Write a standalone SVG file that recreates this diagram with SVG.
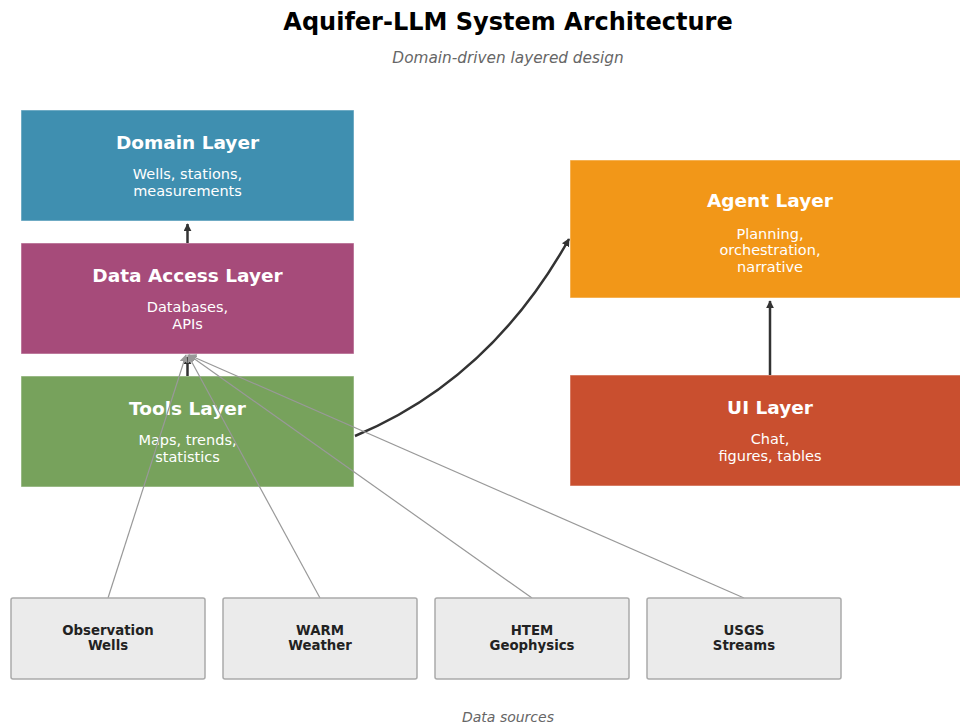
<svg xmlns="http://www.w3.org/2000/svg" width="960" height="726" viewBox="0 0 960 726">
<defs>
<marker id="ahg" viewBox="0 0 10 10" refX="9" refY="5" markerWidth="8" markerHeight="8" orient="auto" markerUnits="userSpaceOnUse"><path d="M0,0 L10,5 L0,10 z" fill="#999"/></marker>
<marker id="ahd" viewBox="0 0 10 10" refX="9" refY="5" markerWidth="8" markerHeight="8" orient="auto" markerUnits="userSpaceOnUse"><path d="M0,0 L10,5 L0,10 z" fill="#333"/></marker>
</defs>
<style>
text{font-family:"DejaVu Sans","Liberation Sans",sans-serif;text-anchor:middle}
.title{font-size:24px;font-weight:bold;fill:#000}
.sub{font-size:15.3px;font-style:italic;fill:#666}
.nt{font-size:18.5px;font-weight:bold;fill:#fff}
.nd{font-size:14.5px;fill:#fff}
.src rect{fill:#ebebeb;stroke:#aaa;stroke-width:1.5}
.st{font-size:13.3px;font-weight:bold;fill:#222}
.lay{stroke:#fff;stroke-width:1;stroke-opacity:0.5}
.dark{stroke:#333;stroke-width:2.5;fill:none}
.gray{stroke:#999;stroke-width:1.2;fill:none}
</style>
<rect width="960" height="726" fill="#fff"/>
<text class="title" x="508" y="30">Aquifer-LLM System Architecture</text>
<text class="sub" x="508" y="63">Domain-driven layered design</text>

<g id="domain">
<rect class="lay" x="21" y="110" width="333" height="111" fill="#3f8fb0"/>
<text class="nt" x="187.5" y="149">Domain Layer</text>
<text class="nd" x="187.5" y="179">Wells, stations,</text>
<text class="nd" x="187.5" y="196">measurements</text>
</g>
<g id="dataaccess">
<rect class="lay" x="21" y="243" width="333" height="111" fill="#a64b7a"/>
<text class="nt" x="187.5" y="282">Data Access Layer</text>
<text class="nd" x="187.5" y="312">Databases,</text>
<text class="nd" x="187.5" y="329">APIs</text>
</g>
<g id="tools">
<rect class="lay" x="21" y="376" width="333" height="111" fill="#77a25c"/>
<text class="nt" x="187.5" y="415">Tools Layer</text>
<text class="nd" x="187.5" y="445">Maps, trends,</text>
<text class="nd" x="187.5" y="462">statistics</text>
</g>
<g id="agent">
<rect class="lay" x="570" y="160" width="400" height="138" fill="#f29718"/>
<text class="nt" x="770" y="207">Agent Layer</text>
<text class="nd" x="770" y="239">Planning,</text>
<text class="nd" x="770" y="255">orchestration,</text>
<text class="nd" x="770" y="272">narrative</text>
</g>
<g id="ui">
<rect class="lay" x="570" y="375" width="400" height="111" fill="#c94f2f"/>
<text class="nt" x="770" y="414">UI Layer</text>
<text class="nd" x="770" y="444">Chat,</text>
<text class="nd" x="770" y="461">figures, tables</text>
</g>

<g id="connectors">
<line class="dark" x1="187.5" y1="243" x2="187.5" y2="224" marker-end="url(#ahd)"/>
<line class="dark" x1="187.5" y1="376" x2="187.5" y2="357" marker-end="url(#ahd)"/>
<line class="dark" x1="770" y1="375" x2="770" y2="301" marker-end="url(#ahd)"/>
<path class="dark" d="M355,436 Q490,380 569,239" marker-end="url(#ahd)"/>
<line class="gray" x1="108" y1="598" x2="186" y2="355" marker-end="url(#ahg)"/>
<line class="gray" x1="320" y1="598" x2="188" y2="355" marker-end="url(#ahg)"/>
<line class="gray" x1="532" y1="598" x2="189" y2="355" marker-end="url(#ahg)"/>
<line class="gray" x1="744" y1="598" x2="189" y2="355" marker-end="url(#ahg)"/>
</g>

<g id="src-wells" class="src"><rect x="11" y="598" width="194" height="81" rx="2"/><text class="st" x="108" y="635">Observation</text><text class="st" x="108" y="650">Wells</text></g>
<g id="src-warm" class="src"><rect x="223" y="598" width="194" height="81" rx="2"/><text class="st" x="320" y="635">WARM</text><text class="st" x="320" y="650">Weather</text></g>
<g id="src-htem" class="src"><rect x="435" y="598" width="194" height="81" rx="2"/><text class="st" x="532" y="635">HTEM</text><text class="st" x="532" y="650">Geophysics</text></g>
<g id="src-usgs" class="src"><rect x="647" y="598" width="194" height="81" rx="2"/><text class="st" x="744" y="635">USGS</text><text class="st" x="744" y="650">Streams</text></g>

<text class="sub" x="508" y="722" style="font-size:14px">Data sources</text>
</svg>
